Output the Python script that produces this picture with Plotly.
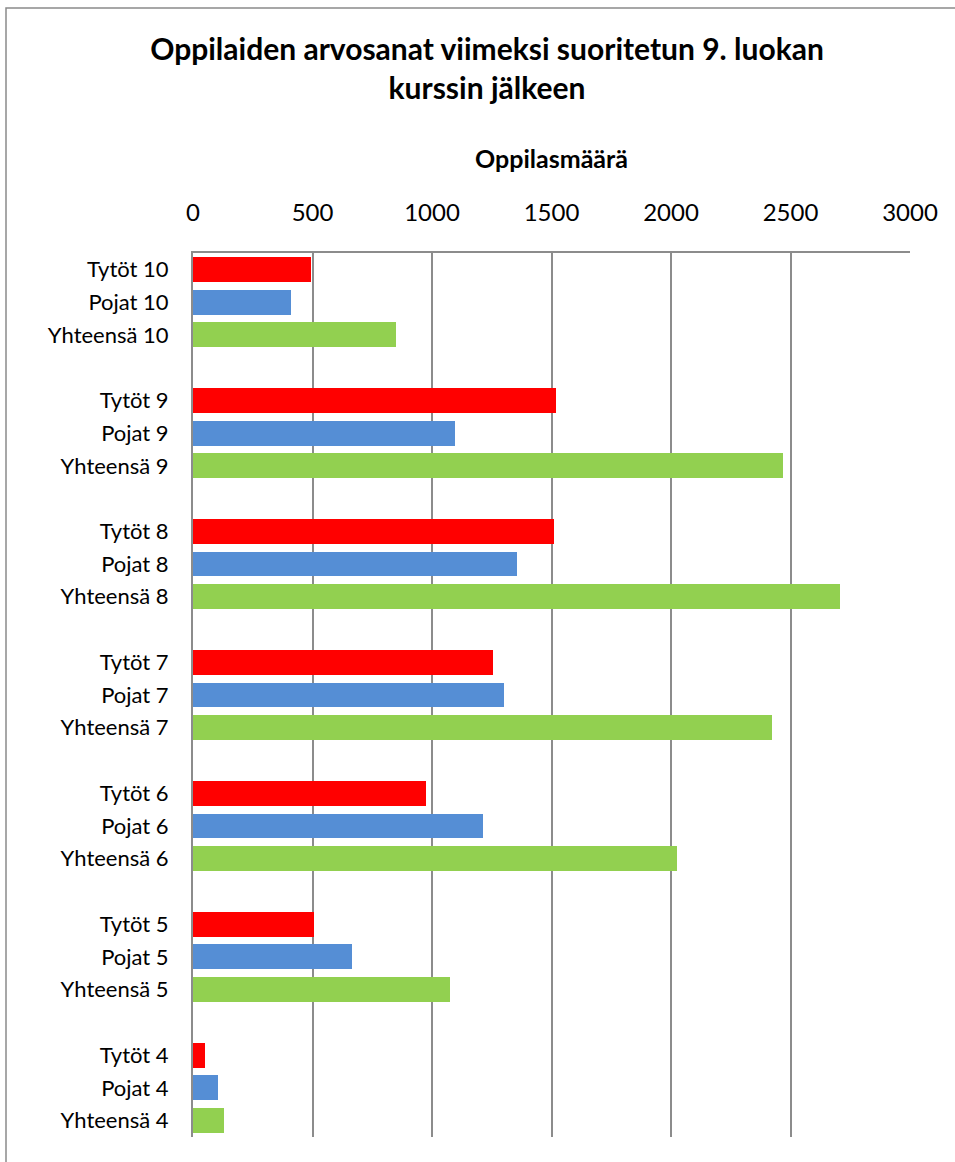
import plotly.graph_objects as go

grades = [10, 9, 8, 7, 6, 5, 4]
tytot = [494, 1519, 1510, 1255, 975, 506, 50]
pojat = [410, 1096, 1356, 1301, 1213, 665, 105]
yhteensa = [849, 2469, 2707, 2423, 2025, 1075, 130]
x_ticks = [0, 500, 1000, 1500, 2000, 2500, 3000]

colors = {"Tytöt": "#FF0000", "Pojat": "#558ED5", "Yhteensä": "#92D050"}
series = [("Tytöt", tytot), ("Pojat", pojat), ("Yhteensä", yhteensa)]

W, H = 955, 1162
ML, MR, MT, MB = 193, 45, 253, 25
PW, PH = W - ML - MR, H - MT - MB

fig = go.Figure()
tickvals, ticktext = [], []
for k, (name, vals) in enumerate(series):
    ys = [4 * i + k for i in range(len(grades))]
    fig.add_trace(go.Bar(
        x=vals, y=ys, orientation="h", width=0.76,
        marker=dict(color=colors[name], line=dict(width=0)),
        name=name, showlegend=False,
    ))
    for i, g in enumerate(grades):
        tickvals.append(4 * i + k)
        ticktext.append(f"{name} {g}")

font_family = "Lato, 'Open Sans', sans-serif"
grid_col = "#8C8C8C"

fig.update_layout(
    width=W, height=H,
    margin=dict(l=ML, r=MR, t=MT, b=MB, autoexpand=False),
    paper_bgcolor="white", plot_bgcolor="white",
    font=dict(family=font_family, color="#000000"),
    title=dict(
        text="<b>Oppilaiden arvosanat viimeksi suoritetun 9. luokan<br>kurssin jälkeen</b>",
        x=(487 - ML) / PW, xref="paper", xanchor="center",
        y=1 - 60 / H, yref="container", yanchor="top",
        font=dict(size=30, family=font_family, color="#000000"),
    ),
    bargap=0,
    xaxis=dict(
        side="top", range=[0, 3000], tickvals=x_ticks,
        ticktext=[str(v) for v in x_ticks],
        showgrid=True, gridcolor=grid_col, gridwidth=1.5,
        showline=True, linecolor=grid_col, linewidth=1.5,
        zeroline=False, ticks="", ticklabelstandoff=21,
        tickfont=dict(size=24, family=font_family, color="#000000"),
        title=dict(text="<b>Oppilasmäärä</b>", standoff=21,
                   font=dict(size=25, family=font_family, color="#000000")),
    ),
    yaxis=dict(
        range=[26.5, -0.5], tickvals=tickvals, ticktext=ticktext,
        showgrid=False, zeroline=False,
        showline=True, linecolor=grid_col, linewidth=2,
        ticks="", ticklabelstandoff=18,
        tickfont=dict(size=22, family=font_family, color="#000000"),
    ),
    shapes=[dict(
        type="rect", xref="paper", yref="paper",
        x0=(6 - ML) / PW, x1=1.3,
        y0=-0.2, y1=(H - MB - 8) / PH,
        line=dict(color="#8A8A8A", width=1.5), fillcolor="rgba(0,0,0,0)",
        layer="below",
    )],
)

fig.write_html("out.html", config={"displayModeBar": False},
               post_script="document.body.style.margin='0';")
